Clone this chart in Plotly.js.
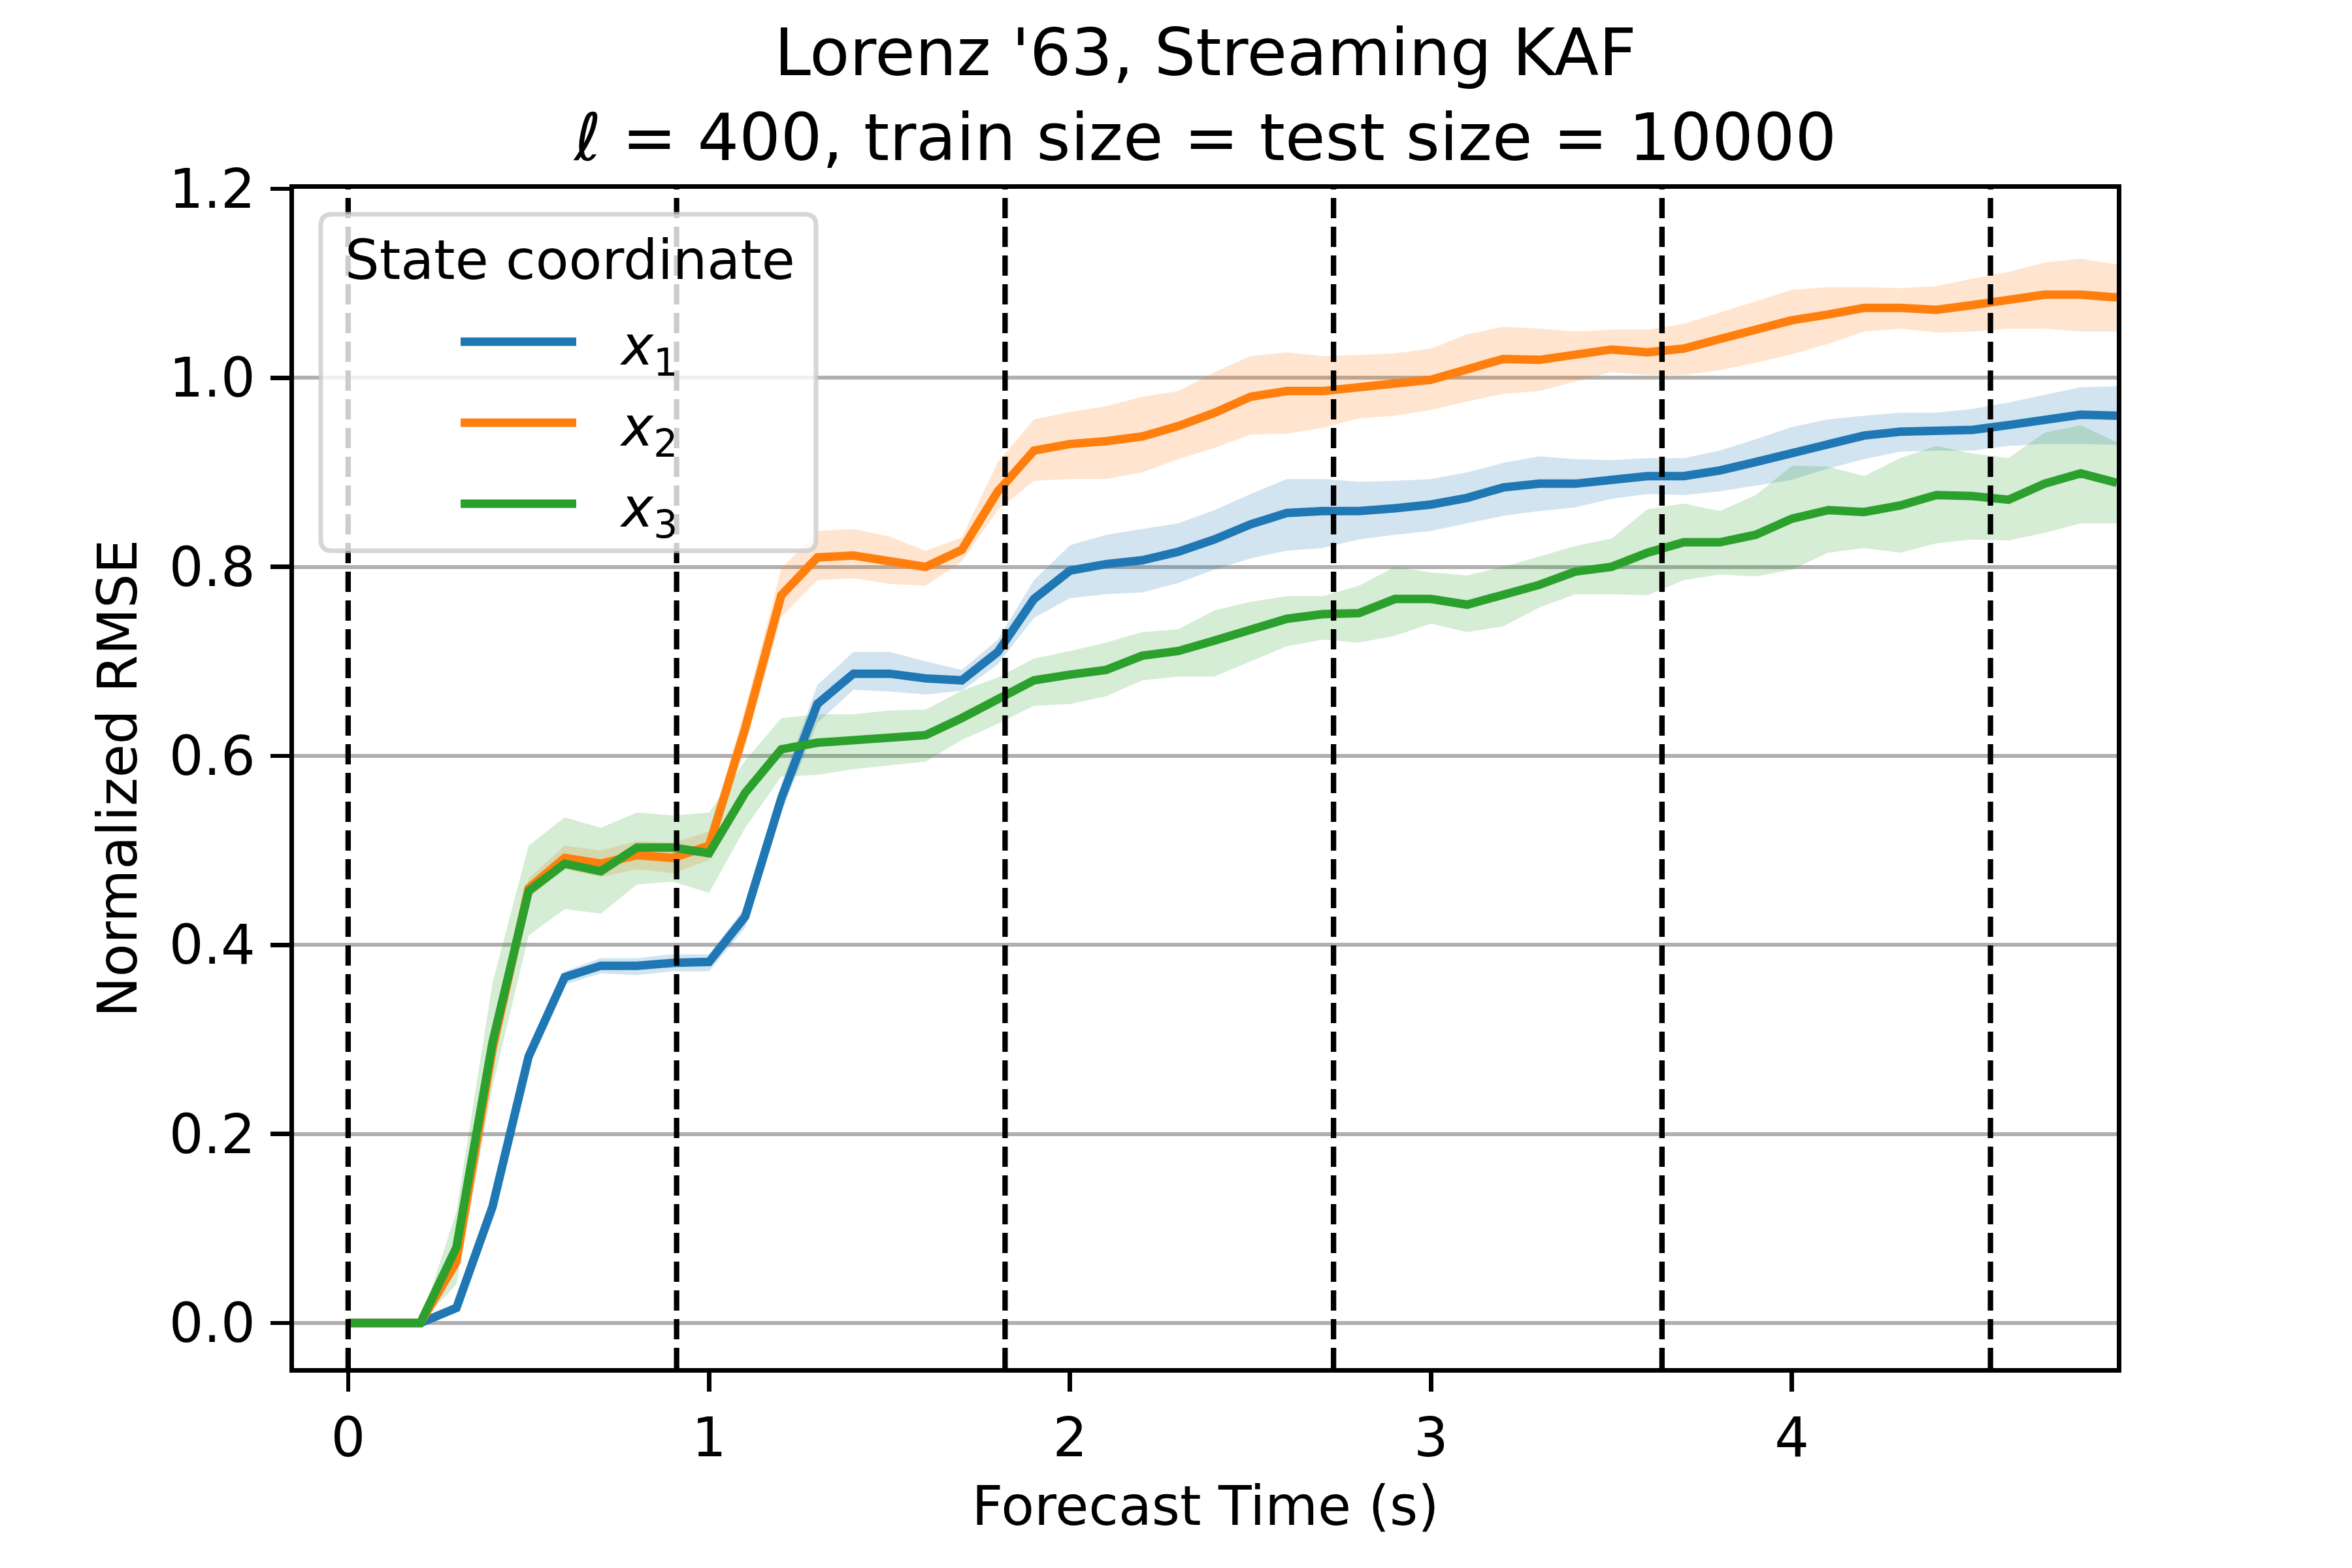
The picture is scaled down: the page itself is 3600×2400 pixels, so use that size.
<!DOCTYPE html>
<html>
<head>
<meta charset="utf-8">
<script src="https://cdn.plot.ly/plotly-3.0.1.min.js"></script>
<style>html,body{margin:0;padding:0;background:#fff;}#chart{width:3600px;height:2400px;}</style>
</head>
<body>
<div id="chart"></div>
<script>
// Forecast times (s)
const forecastTime = [0.0,0.1,0.2,0.3,0.4,0.5,0.6,0.7,0.8,0.9,1.0,1.1,1.2,1.3,1.4,1.5,1.6,1.7,1.8,1.9,2.0,2.1,2.2,2.3,2.4,2.5,2.6,2.7,2.8,2.9,3.0,3.1,3.2,3.3,3.4,3.5,3.6,3.7,3.8,3.9,4.0,4.1,4.2,4.3,4.4,4.5,4.6,4.7,4.8,4.9];

// x1 normalized RMSE and band
const x1Mean = [0,0,0,0.016,0.123,0.282,0.366,0.378,0.378,0.381,0.382,0.430,0.555,0.655,0.687,0.687,0.682,0.680,0.710,0.766,0.796,0.803,0.807,0.816,0.829,0.845,0.857,0.859,0.859,0.862,0.866,0.873,0.884,0.888,0.888,0.892,0.896,0.896,0.902,0.911,0.921,0.931,0.939,0.943,0.943,0.945,0.950,0.956,0.961,0.960];
const x1Upper = [0,0,0,0.020,0.128,0.288,0.372,0.386,0.386,0.390,0.390,0.440,0.570,0.675,0.710,0.710,0.700,0.691,0.723,0.786,0.823,0.834,0.840,0.846,0.860,0.877,0.893,0.893,0.890,0.891,0.893,0.900,0.910,0.917,0.914,0.913,0.915,0.915,0.923,0.935,0.948,0.956,0.960,0.963,0.963,0.967,0.974,0.982,0.990,0.991];
const x1Lower = [0,0,0,0.012,0.118,0.276,0.358,0.370,0.368,0.372,0.372,0.418,0.540,0.635,0.670,0.668,0.665,0.669,0.697,0.746,0.767,0.771,0.773,0.783,0.797,0.809,0.817,0.820,0.829,0.834,0.838,0.846,0.854,0.859,0.863,0.872,0.877,0.876,0.880,0.886,0.892,0.904,0.914,0.922,0.923,0.923,0.928,0.930,0.930,0.929];

// x2 normalized RMSE and band
const x2Mean = [0,0,0,0.065,0.290,0.460,0.492,0.486,0.495,0.492,0.505,0.629,0.770,0.810,0.812,0.806,0.800,0.818,0.880,0.923,0.930,0.933,0.938,0.949,0.963,0.980,0.986,0.986,0.991,0.994,0.998,1.010,1.020,1.019,1.024,1.030,1.027,1.031,1.041,1.050,1.061,1.067,1.074,1.074,1.072,1.077,1.082,1.088,1.088,1.085];
const x2Upper = [0,0,0,0.075,0.300,0.470,0.505,0.500,0.510,0.508,0.520,0.650,0.798,0.838,0.840,0.832,0.817,0.831,0.911,0.956,0.964,0.970,0.980,0.986,1.006,1.023,1.027,1.023,1.024,1.026,1.031,1.046,1.054,1.052,1.049,1.051,1.051,1.057,1.069,1.081,1.093,1.096,1.096,1.095,1.097,1.105,1.112,1.122,1.126,1.120];
const x2Lower = [0,0,0,0.055,0.280,0.450,0.480,0.472,0.480,0.476,0.490,0.610,0.747,0.786,0.788,0.782,0.780,0.806,0.860,0.891,0.893,0.893,0.900,0.914,0.926,0.940,0.941,0.947,0.957,0.960,0.966,0.975,0.983,0.986,0.996,1.006,1.003,1.003,1.008,1.016,1.025,1.036,1.049,1.052,1.048,1.049,1.052,1.052,1.049,1.049];

// x3 normalized RMSE and band
const x3Mean = [0,0,0,0.080,0.297,0.457,0.486,0.478,0.503,0.503,0.497,0.561,0.607,0.614,0.617,0.618,0.622,0.640,0.661,0.680,0.686,0.691,0.706,0.711,0.722,0.734,0.745,0.750,0.751,0.766,0.766,0.760,0.770,0.781,0.795,0.800,0.815,0.826,0.826,0.834,0.851,0.860,0.858,0.865,0.876,0.875,0.871,0.888,0.899,0.889];
const x3Upper = [0,0,0,0.118,0.360,0.505,0.535,0.524,0.540,0.537,0.540,0.595,0.640,0.644,0.644,0.648,0.649,0.669,0.683,0.703,0.711,0.720,0.731,0.734,0.754,0.763,0.769,0.769,0.780,0.800,0.794,0.791,0.800,0.811,0.822,0.830,0.861,0.867,0.859,0.876,0.907,0.906,0.896,0.915,0.928,0.920,0.915,0.942,0.950,0.932];
const x3Lower = [0,0,0,0.041,0.250,0.410,0.438,0.433,0.464,0.467,0.455,0.524,0.578,0.580,0.586,0.590,0.594,0.617,0.634,0.653,0.655,0.663,0.680,0.684,0.684,0.700,0.716,0.723,0.720,0.727,0.740,0.731,0.737,0.757,0.771,0.771,0.770,0.786,0.792,0.790,0.797,0.815,0.820,0.815,0.825,0.829,0.828,0.836,0.846,0.846];

// Vertical reference lines (forecast time, s)
const refLines = [0, 0.91, 1.82, 2.73, 3.64, 4.55];

const seriesNames = ["<i>x</i><sub>1</sub>", "<i>x</i><sub>2</sub>", "<i>x</i><sub>3</sub>"];
const seriesColors = ["#1f77b4", "#ff7f0e", "#2ca02c"];
const bandColors = ["rgba(31,119,180,0.2)", "rgba(255,127,14,0.2)", "rgba(44,160,44,0.2)"];
const xTickVals = [0, 1, 2, 3, 4];
const yTickVals = [0.0, 0.2, 0.4, 0.6, 0.8, 1.0, 1.2];

const means = [x1Mean, x2Mean, x3Mean];
const uppers = [x1Upper, x2Upper, x3Upper];
const lowers = [x1Lower, x2Lower, x3Lower];

const FONT = "DejaVu Sans";
const traces = [];
// bands first (below lines)
for (let i = 0; i < 3; i++) {
  traces.push({
    x: forecastTime.concat(forecastTime.slice().reverse()),
    y: uppers[i].concat(lowers[i].slice().reverse()),
    type: "scatter", mode: "lines", fill: "toself",
    fillcolor: bandColors[i], line: {width: 0, color: "rgba(0,0,0,0)"},
    hoverinfo: "skip", showlegend: false
  });
}
for (let i = 0; i < 3; i++) {
  traces.push({
    x: forecastTime, y: means[i], type: "scatter", mode: "lines",
    name: seriesNames[i], line: {color: seriesColors[i], width: 13},
    showlegend: false
  });
}

// plot area geometry in pixels for the manual legend
const L = 450, R = 3240, T = 289, B = 2094;
const px = X => (X - L) / (R - L);
const py = Y => (B - Y) / (B - T);

const shapes = refLines.map(v => ({
  type: "line", xref: "x", yref: "paper", x0: v, x1: v, y0: 0, y1: 1,
  line: {color: "black", width: 8.3, dash: "31px,13px"}, layer: "above"
}));

// legend frame (rounded)
const bx0 = px(491), bx1 = px(1249), by0 = py(843), by1 = py(328);
const rx = 17 / (R - L), ry = 17 / (B - T);
shapes.push({
  type: "path", xref: "paper", yref: "paper", layer: "above",
  path: `M${bx0+rx},${by0} L${bx1-rx},${by0} Q${bx1},${by0} ${bx1},${by0+ry} L${bx1},${by1-ry} Q${bx1},${by1} ${bx1-rx},${by1} L${bx0+rx},${by1} Q${bx0},${by1} ${bx0},${by1-ry} L${bx0},${by0+ry} Q${bx0},${by0} ${bx0+rx},${by0} Z`,
  fillcolor: "rgba(255,255,255,0.8)", line: {color: "rgba(204,204,204,0.8)", width: 7}
});
const legendY = [523, 647, 771];
const annotations = [{
  text: "State coordinate", xref: "paper", yref: "paper",
  x: px(526), y: py(399), xanchor: "left", yanchor: "middle", showarrow: false,
  font: {family: FONT, size: 83, color: "black"}
}];
for (let i = 0; i < 3; i++) {
  shapes.push({
    type: "line", xref: "paper", yref: "paper", layer: "above",
    x0: px(705), x1: px(882), y0: py(legendY[i]), y1: py(legendY[i]),
    line: {color: seriesColors[i], width: 13}
  });
  annotations.push({
    text: seriesNames[i], xref: "paper", yref: "paper",
    x: px(946), y: py(legendY[i] + 12), xanchor: "left", yanchor: "middle", showarrow: false,
    font: {family: FONT, size: 83, color: "black"}
  });
}

const layout = {
  width: 3600, height: 2400,
  paper_bgcolor: "white", plot_bgcolor: "white",
  margin: {l: L, r: 3600 - R, t: T, b: 2400 - B, pad: 0},
  font: {family: FONT, size: 83, color: "black"},
  title: {
    text: "Lorenz '63, Streaming KAF<br><i>ℓ</i> = 400, train size = test size = 10000",
    font: {family: FONT, size: 100, color: "black"},
    x: 0.5, xref: "paper", xanchor: "center",
    y: 1 - 115 / 2400, yref: "container", yanchor: "top"
  },
  xaxis: {
    range: [-0.15, 4.9], tickvals: xTickVals, ticktext: xTickVals.map(String),
    showgrid: false, zeroline: false,
    showline: true, mirror: true, linecolor: "black", linewidth: 6.7,
    ticks: "outside", ticklen: 29, tickwidth: 6.7, tickcolor: "black",
    ticklabelstandoff: 0,
    tickfont: {family: FONT, size: 83, color: "black"},
    title: {text: "Forecast Time (s)", font: {family: FONT, size: 83, color: "black"}, standoff: 30}
  },
  yaxis: {
    range: [-0.0477, 1.2], tickvals: yTickVals, ticktext: yTickVals.map(v => v.toFixed(1)),
    showgrid: true, gridcolor: "#b0b0b0", gridwidth: 6, zeroline: false,
    showline: true, mirror: true, linecolor: "black", linewidth: 6.7,
    ticks: "outside", ticklen: 29, tickwidth: 6.7, tickcolor: "black",
    ticklabelstandoff: 7,
    tickfont: {family: FONT, size: 83, color: "black"},
    title: {text: "Normalized RMSE", font: {family: FONT, size: 83, color: "black"}, standoff: 24}
  },
  showlegend: false,
  shapes: shapes,
  annotations: annotations
};

Plotly.newPlot("chart", traces, layout, {staticPlot: true, displayModeBar: false});
</script>
</body>
</html>
